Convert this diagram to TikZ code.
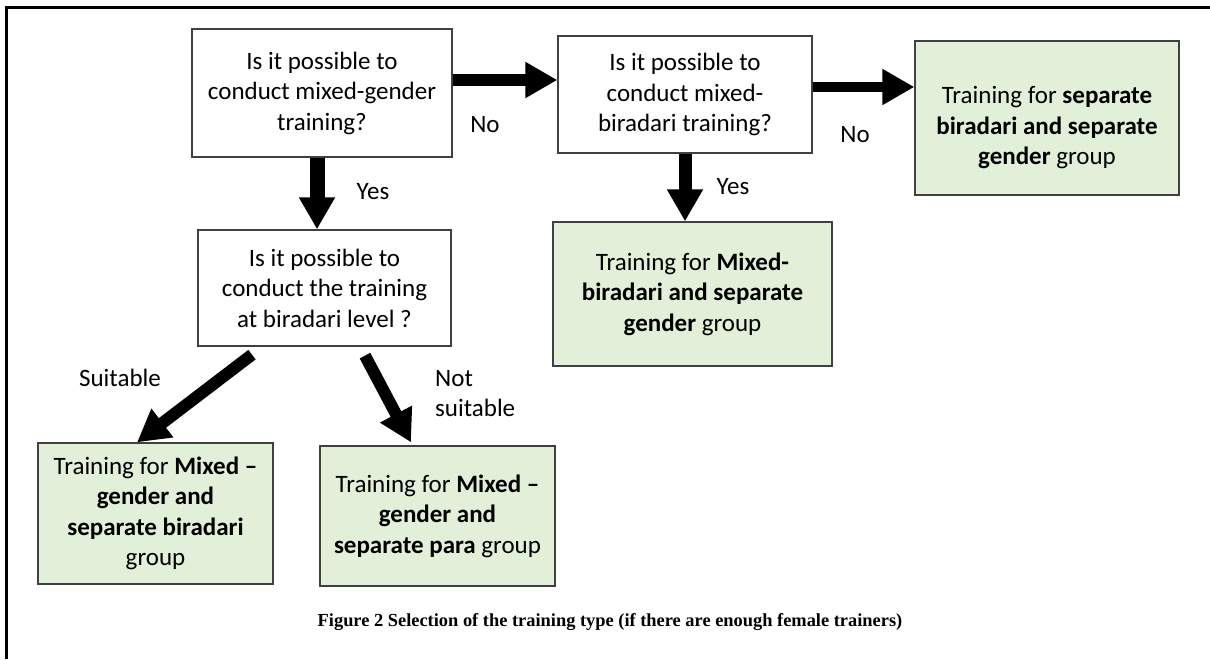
\documentclass[tikz,border=0pt]{standalone}
\usepackage{fontspec}
\setmainfont{Carlito}
\newfontfamily\capfont{Liberation Serif}
\usetikzlibrary{arrows.meta}
\definecolor{boxgreen}{HTML}{E2EFD9}
\definecolor{boxline}{HTML}{404040}
\begin{document}
\begin{tikzpicture}[x=1pt,y=-1pt,
  qbox/.style={draw=boxline, line width=1.3pt, fill=white, inner sep=0pt, align=center,
    font=\fontsize{25}{30.5}\selectfont},
  gbox/.style={qbox, fill=boxgreen},
  blk/.style={line width=#1, -{Triangle[width=34pt,length=32pt]}},
  blk/.default=12pt,
  lbl/.style={font=\fontsize{25}{30.5}\selectfont, inner sep=0pt},
]
\useasboundingbox (0,0) rectangle (1210,659);
\draw[line width=2.5pt] (6.5,659) -- (6.5,7.5) -- (1210,7.5);

\node[qbox, minimum width=260pt, minimum height=128pt] (q1) at (322,93)
  {Is it possible to\\conduct mixed-gender\\training?};
\node[qbox, minimum width=254pt, minimum height=117pt] (q2) at (685,94.5)
  {Is it possible to\\conduct mixed-\\biradari training?};
\node[gbox, minimum width=264pt, minimum height=154pt] (r1) at (1047,118)
  {\rule{0pt}{37pt}Training for \textbf{separate}\\\textbf{biradari and separate}\\\textbf{gender} group};
\node[qbox, minimum width=253pt, minimum height=116pt] (q3) at (324.5,288)
  {Is it possible to\\conduct the training\\at biradari level ?};
\node[gbox, minimum width=279pt, minimum height=144pt] (r2) at (692.5,294)
  {Training for \textbf{Mixed-}\\\textbf{biradari and separate}\\\textbf{gender} group};
\node[gbox, minimum width=235pt, minimum height=141pt] (b1) at (155.5,513.5)
  {Training for \textbf{Mixed –}\\\textbf{gender and}\\\textbf{separate biradari}\\group};
\node[gbox, minimum width=235pt, minimum height=140pt] (b2) at (437.5,516)
  {Training for \textbf{Mixed –}\\\textbf{gender and}\\\textbf{separate para} group};

\draw[blk=12pt] ([yshift=13pt]q1.east) -- ([yshift=13pt]q1.east -| q2.west);
\draw[blk=10pt] ([yshift=7.5pt]q2.east) -- ([yshift=7.5pt]q2.east -| r1.west);
\draw[blk=15pt] ([xshift=-5pt]q1.south) -- ([xshift=-5pt]q1.south |- q3.north);
\draw[blk=13pt] (q2.south) -- (q2.south |- r2.north);
\draw[blk=12pt] ([xshift=-72.5pt,yshift=-8pt]q3.south) -- ([xshift=-18.5pt]b1.north);
\draw[blk=12pt] ([xshift=40.5pt,yshift=-9pt]q3.south) -- ([xshift=-26.5pt,yshift=3pt]b2.north);

\node[lbl] (no1) at (485,125) {No};
\node[lbl] (yes1) at (373,192) {Yes};
\node[lbl] (no2) at (855,135) {No};
\node[lbl] (yes2) at (733,187) {Yes};
\node[lbl] (suit) at (120,378) {Suitable};
\node[lbl, align=left, anchor=west] (nsuit) at (435,393.5) {Not\\suitable};

\node[inner sep=0pt, font=\capfont\fontsize{18.4}{22}\selectfont\bfseries] (cap) at (610,622)
  {Figure 2 Selection of the training type (if there are enough female trainers)};
\end{tikzpicture}
\end{document}
